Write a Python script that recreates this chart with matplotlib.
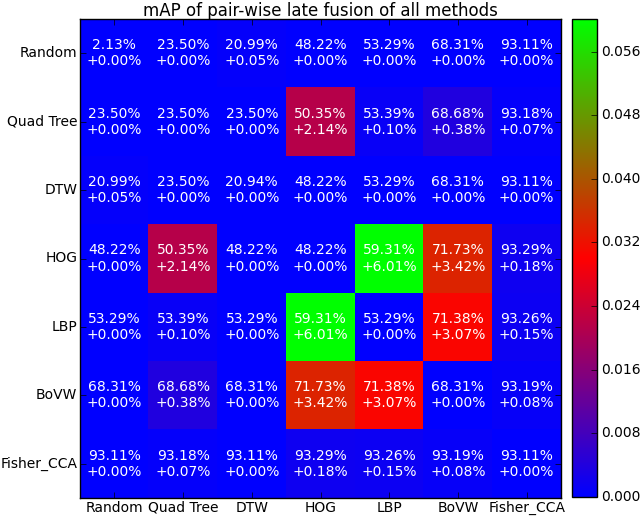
import numpy as np
import matplotlib
matplotlib.use("Agg")
import matplotlib.pyplot as plt

plt.style.use("classic")

methods = ["Random", "Quad Tree", "DTW", "HOG", "LBP", "BoVW", "Fisher_CCA"]

# mAP of the fused pair (%)
fused_map = [
    [2.13, 23.50, 20.99, 48.22, 53.29, 68.31, 93.11],
    [23.50, 23.50, 23.50, 50.35, 53.39, 68.68, 93.18],
    [20.99, 23.50, 20.94, 48.22, 53.29, 68.31, 93.11],
    [48.22, 50.35, 48.22, 48.22, 59.31, 71.73, 93.29],
    [53.29, 53.39, 53.29, 59.31, 53.29, 71.38, 93.26],
    [68.31, 68.68, 68.31, 71.73, 71.38, 68.31, 93.19],
    [93.11, 93.18, 93.11, 93.29, 93.26, 93.19, 93.11],
]

# gain over the best single method (%)
gain = [
    [0.00, 0.00, 0.05, 0.00, 0.00, 0.00, 0.00],
    [0.00, 0.00, 0.00, 2.14, 0.10, 0.38, 0.07],
    [0.05, 0.00, 0.00, 0.00, 0.00, 0.00, 0.00],
    [0.00, 2.14, 0.00, 0.00, 6.01, 3.42, 0.18],
    [0.00, 0.10, 0.00, 6.01, 0.00, 3.07, 0.15],
    [0.00, 0.38, 0.00, 3.42, 3.07, 0.00, 0.08],
    [0.00, 0.07, 0.00, 0.18, 0.15, 0.08, 0.00],
]

fused_map = np.array(fused_map)
gain = np.array(gain)

fig = plt.figure(figsize=(6.4, 5.16), dpi=100, facecolor="white")
ax = fig.add_axes([80 / 640, 1 - 498 / 516, 481 / 640, 479 / 516])
cax = fig.add_axes([572 / 640, 1 - 497 / 516, 25 / 640, 478 / 516])

im = ax.imshow(gain / 100.0, cmap="brg", interpolation="nearest",
               vmin=0, vmax=gain.max() / 100.0, aspect="auto")

n = len(methods)
for i in range(n):
    for j in range(n):
        ax.text(j, i, "%.2f%%\n+%.2f%%" % (fused_map[i, j], gain[i, j]),
                ha="center", va="center", color="white", fontsize=10,
                linespacing=1.2)

ax.set_xticks(range(n))
ax.set_yticks(range(n))
ax.set_xticklabels(methods, fontsize=10)
ax.set_yticklabels(methods, fontsize=10)
ax.tick_params(axis="both", pad=2)
ax.set_xlim(-0.5, n - 0.5)
ax.set_ylim(n - 0.5, -0.5)
ax.set_title("mAP of pair-wise late fusion of all methods", fontsize=12, pad=2)

cb = fig.colorbar(im, cax=cax)
cb.set_ticks(np.arange(0, 0.057, 0.008))
cb.ax.tick_params(labelsize=10, pad=3)

fig.savefig("out.png", dpi=100, facecolor="white")
